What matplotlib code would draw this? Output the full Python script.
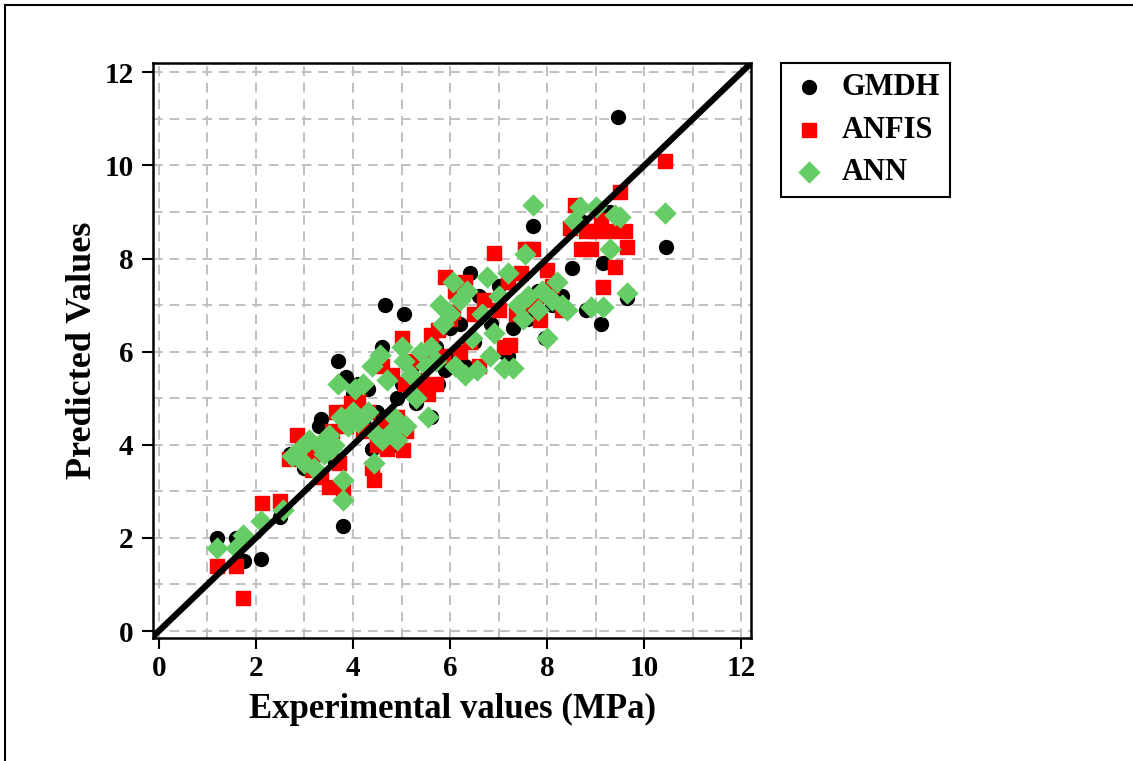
import numpy as np
import matplotlib
matplotlib.use("Agg")
import matplotlib.pyplot as plt
from matplotlib.lines import Line2D
from matplotlib.ticker import MultipleLocator

plt.rcParams['font.family'] = ['Liberation Serif', 'DejaVu Serif']
plt.rcParams['font.weight'] = 'bold'

# GMDH (black circles)
gmdh_x = [1.20, 1.60, 1.75, 2.10, 2.50, 2.70, 3.00, 3.10, 3.30, 3.35,
          3.50, 3.60, 3.70, 3.80, 3.85, 3.90, 4.00, 4.10, 4.20, 4.30,
          4.40, 4.50, 4.60, 4.65, 4.70, 4.80, 4.90, 5.00, 5.05, 5.20,
          5.30, 5.50, 5.60, 5.70, 5.75, 5.90, 6.00, 6.05, 6.20, 6.30,
          6.40, 6.50, 6.60, 6.85, 7.00, 7.10, 7.20, 7.30, 7.40, 7.50,
          7.60, 7.70, 7.80, 7.95, 8.10, 8.30, 8.50, 8.70, 8.80, 9.00,
          9.10, 9.15, 9.30, 9.45, 9.65, 10.45]
gmdh_y = [2.00, 2.00, 1.50, 1.55, 2.45, 3.80, 3.50, 3.90, 4.40, 4.55,
          4.10, 3.70, 5.80, 2.25, 5.45, 4.60, 5.10, 5.30, 4.50, 5.20,
          3.90, 4.70, 6.10, 7.00, 4.30, 4.00, 5.00, 5.30, 6.80, 5.60,
          4.90, 5.80, 4.60, 6.10, 5.30, 5.60, 6.50, 5.90, 6.60, 5.70,
          7.70, 6.20, 7.20, 6.60, 7.40, 6.00, 5.90, 6.50, 6.80, 7.00,
          6.70, 8.70, 7.30, 6.30, 7.00, 7.20, 7.80, 8.80, 6.90, 8.60,
          6.60, 7.90, 9.00, 11.05, 7.15, 8.25]

# ANFIS (red squares)
anfis_x = [1.20, 1.60, 1.73, 2.12, 2.50, 2.68, 2.85, 2.95, 3.05, 3.15,
           3.25, 3.35, 3.45, 3.50, 3.57, 3.65, 3.72, 3.80, 3.85, 3.95,
           4.05, 4.10, 4.20, 4.30, 4.40, 4.43, 4.50, 4.60, 4.65, 4.70,
           4.80, 4.85, 4.90, 5.00, 5.03, 5.07, 5.10, 5.20, 5.30, 5.40,
           5.50, 5.55, 5.60, 5.70, 5.75, 5.85, 5.90, 6.00, 6.06, 6.10,
           6.20, 6.30, 6.40, 6.50, 6.60, 6.70, 6.90, 7.00, 7.10, 7.20,
           7.24, 7.35, 7.45, 7.55, 7.60, 7.70, 7.86, 7.90, 8.00, 8.10,
           8.30, 8.47, 8.58, 8.70, 8.80, 8.90, 9.00, 9.10, 9.15, 9.30,
           9.40, 9.50, 9.60, 9.65, 10.43]
anfis_y = [1.39, 1.39, 0.70, 2.75, 2.80, 3.70, 4.20, 3.90, 3.60, 3.45,
           3.80, 3.30, 4.00, 3.10, 4.30, 4.70, 3.60, 3.00, 4.40, 4.90,
           4.60, 4.95, 4.30, 4.70, 3.50, 3.25, 4.00, 5.70, 4.50, 3.90,
           5.50, 4.10, 4.60, 6.30, 3.88, 5.30, 4.30, 5.80, 5.10, 5.40,
           6.00, 5.10, 6.35, 5.30, 6.46, 5.90, 7.60, 6.70, 6.85, 7.30,
           6.00, 7.50, 6.20, 6.80, 5.70, 7.10, 8.13, 6.90, 6.10, 7.50,
           6.14, 6.80, 7.70, 8.20, 7.00, 8.20, 6.67, 7.20, 7.75, 7.40,
           6.90, 8.65, 9.14, 8.20, 8.60, 8.20, 8.60, 8.82, 7.38, 8.60,
           7.81, 9.42, 8.60, 8.24, 10.10]

# ANN (green diamonds)
ann_x = [1.20, 1.60, 1.73, 2.10, 2.55, 2.75, 2.90, 3.00, 3.10, 3.20,
         3.30, 3.40, 3.50, 3.55, 3.60, 3.70, 3.75, 3.80, 3.80, 3.90,
         4.00, 4.05, 4.10, 4.20, 4.30, 4.40, 4.43, 4.50, 4.56, 4.60,
         4.70, 4.80, 4.85, 4.90, 5.00, 5.05, 5.10, 5.20, 5.30, 5.40,
         5.50, 5.55, 5.60, 5.70, 5.80, 5.85, 6.00, 6.05, 6.10, 6.20,
         6.30, 6.35, 6.45, 6.55, 6.65, 6.75, 6.82, 6.90, 7.00, 7.10,
         7.20, 7.30, 7.40, 7.50, 7.55, 7.60, 7.71, 7.80, 7.90, 8.00,
         8.10, 8.20, 8.30, 8.40, 8.55, 8.68, 8.90, 9.00, 9.15, 9.30,
         9.40, 9.50, 9.65, 10.43]
ann_y = [1.78, 1.78, 2.06, 2.36, 2.60, 3.75, 3.90, 3.60, 4.10, 3.50,
         4.00, 3.80, 4.20, 3.90, 4.00, 5.30, 4.60, 3.24, 2.81, 4.40,
         4.70, 5.20, 4.50, 5.30, 4.70, 5.70, 3.60, 4.20, 5.92, 4.10,
         5.40, 4.30, 4.60, 4.10, 6.10, 5.80, 4.40, 5.50, 5.00, 6.00,
         5.70, 4.60, 6.10, 5.80, 7.00, 6.60, 6.80, 7.50, 5.70, 7.10,
         5.50, 7.30, 6.30, 5.60, 6.80, 7.60, 5.90, 6.40, 7.20, 5.65,
         7.70, 5.65, 7.00, 6.70, 8.10, 7.20, 9.14, 6.90, 7.30, 6.30,
         7.10, 7.50, 7.00, 6.90, 8.80, 9.10, 6.95, 9.10, 6.97, 8.20,
         8.93, 8.90, 7.27, 8.97]

ideal = [-0.2, 12.3]

fig = plt.figure(figsize=(11.33, 7.61), dpi=100)
ax = fig.add_axes([0.135, 0.1616, 0.528, 0.755])

ax.scatter(gmdh_x, gmdh_y, s=100, marker='o', color='black', label='GMDH', zorder=3)
ax.scatter(anfis_x, anfis_y, s=100, marker='s', color='#FF0000', label='ANFIS', zorder=4)
ax.scatter(ann_x, ann_y, s=130, marker='D', color='#66CC66', label='ANN', zorder=5,
           linewidths=0)
ax.plot(ideal, ideal, color='black', lw=4.5, zorder=6, solid_capstyle='butt')

ax.set_xlim(-0.12, 12.2)
ax.set_ylim(-0.15, 12.19)
ax.xaxis.set_major_locator(MultipleLocator(2))
ax.yaxis.set_major_locator(MultipleLocator(2))
ax.xaxis.set_minor_locator(MultipleLocator(1))
ax.yaxis.set_minor_locator(MultipleLocator(1))
ax.grid(which='both', color='#C0C0C0', linestyle=(0, (5, 3.5)), lw=1.4, zorder=0)
ax.set_axisbelow(True)
ax.tick_params(which='major', direction='out', length=8, width=1.5, labelsize=21, pad=4)
ax.tick_params(axis='y', which='major', pad=6)
ax.tick_params(which='minor', length=0)
for lab in ax.get_xticklabels() + ax.get_yticklabels():
    lab.set_fontweight('bold')
for sp in ax.spines.values():
    sp.set_linewidth(1.8)

ax.set_xlabel('Experimental values (MPa)', fontsize=25, fontweight='bold', labelpad=8)
ax.set_ylabel('Predicted Values', fontsize=26, fontweight='bold', labelpad=4)

leg = fig.legend(loc='upper left', bbox_to_anchor=(0.689, 0.917), borderaxespad=0,
                 prop={'size': 22, 'weight': 'bold'}, fancybox=False, framealpha=1,
                 edgecolor='black', labelspacing=0.45, handletextpad=0.47,
                 handlelength=1.2, borderpad=0.32, markerscale=1.0)
leg.get_frame().set_linewidth(1.5)

# outer frame lines (top and left)
fig.add_artist(Line2D([0.004, 1.0], [0.993, 0.993], color='black', lw=1.5))
fig.add_artist(Line2D([0.004, 0.004], [0.0, 0.993], color='black', lw=1.5))

fig.savefig('out.png', dpi=100)
